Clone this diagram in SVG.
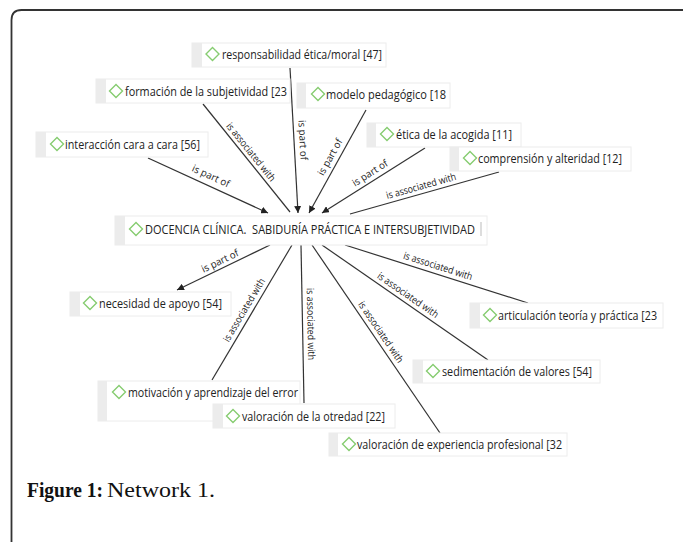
<svg xmlns="http://www.w3.org/2000/svg" width="683" height="542" viewBox="0 0 683 542">
<style>
.frame{fill:none;stroke:#333;stroke-width:1.8}
.strip{fill:#ececec}
.box{fill:#fff;stroke:#ececec;stroke-width:1}
.dia{fill:none;stroke:#86cc70;stroke-width:1.4}
.nt{font-family:"Open Sans","Noto Sans",sans-serif;font-size:13px;fill:#222}
.ln{stroke:#333;stroke-width:1.2;fill:none}
.lb{font-family:"Open Sans","Noto Sans",sans-serif;font-size:10px;fill:#222;text-anchor:middle}
.cap{font-family:"Liberation Serif",serif;font-size:20px;fill:#111}
</style>
<defs>
<marker id="arr" markerUnits="userSpaceOnUse" markerWidth="8" markerHeight="7" refX="7" refY="3.5" orient="auto">
<path d="M0,0 L7,3.5 L0,7 z" fill="#222"/>
</marker>
</defs>
<rect width="683" height="542" fill="#fff"/>
<path class="frame" d="M11.5 542 V20 Q11.5 10 21.5 10 H683"/>

<g id="connectors">
<line class="ln" x1="148" y1="158" x2="268" y2="213" marker-end="url(#arr)"/>
<line class="ln" x1="203" y1="104" x2="290" y2="212"/>
<line class="ln" x1="290" y1="68" x2="298" y2="213" marker-end="url(#arr)"/>
<line class="ln" x1="366" y1="110" x2="309" y2="213" marker-end="url(#arr)"/>
<line class="ln" x1="425" y1="148" x2="322" y2="213" marker-end="url(#arr)"/>
<line class="ln" x1="499" y1="172" x2="350" y2="214"/>
<line class="ln" x1="270" y1="245" x2="177" y2="290" marker-end="url(#arr)"/>
<line class="ln" x1="292" y1="245" x2="212" y2="380"/>
<line class="ln" x1="301" y1="245" x2="304" y2="403"/>
<line class="ln" x1="345" y1="245" x2="528" y2="303"/>
<line class="ln" x1="322" y1="245" x2="488" y2="360"/>
<line class="ln" x1="312" y1="245" x2="440" y2="433"/>
<text class="lb" transform="translate(211,176) rotate(24.6)" y="3.5" textLength="40" lengthAdjust="spacingAndGlyphs">is part of</text>
<text class="lb" transform="translate(251,152) rotate(51.1)" y="3.5" textLength="72" lengthAdjust="spacingAndGlyphs">is associated with</text>
<text class="lb" transform="translate(303,140) rotate(86.8)" y="3.5" textLength="40" lengthAdjust="spacingAndGlyphs">is part of</text>
<text class="lb" transform="translate(330,157) rotate(-61)" y="3.5" textLength="40" lengthAdjust="spacingAndGlyphs">is part of</text>
<text class="lb" transform="translate(370,173) rotate(-32.5)" y="3.5" textLength="40" lengthAdjust="spacingAndGlyphs">is part of</text>
<text class="lb" transform="translate(421,186) rotate(-15.7)" y="3.5" textLength="72" lengthAdjust="spacingAndGlyphs">is associated with</text>
<text class="lb" transform="translate(220,261) rotate(-25.8)" y="3.5" textLength="40" lengthAdjust="spacingAndGlyphs">is part of</text>
<text class="lb" transform="translate(244,310) rotate(-59.3)" y="3.5" textLength="72" lengthAdjust="spacingAndGlyphs">is associated with</text>
<text class="lb" transform="translate(311,324) rotate(88.9)" y="3.5" textLength="72" lengthAdjust="spacingAndGlyphs">is associated with</text>
<text class="lb" transform="translate(438,266) rotate(17.6)" y="3.5" textLength="72" lengthAdjust="spacingAndGlyphs">is associated with</text>
<text class="lb" transform="translate(408,295) rotate(34.7)" y="3.5" textLength="72" lengthAdjust="spacingAndGlyphs">is associated with</text>
<text class="lb" transform="translate(381,332) rotate(55.7)" y="3.5" textLength="72" lengthAdjust="spacingAndGlyphs">is associated with</text>
</g>

<g id="n-responsabilidad">
<rect class="box" x="192" y="43" width="194" height="24"/><rect class="strip" x="192" y="43" width="10" height="24"/>
<path class="dia" d="M206 54 L212.5 47.5 L219 54 L212.5 60.5 Z"/>
<text class="nt" x="222" y="59" textLength="160" lengthAdjust="spacingAndGlyphs">responsabilidad ética/moral [47]</text>
</g>
<g id="n-formacion">
<rect class="box" x="96" y="79" width="194" height="24"/><rect class="strip" x="96" y="79" width="10" height="24"/>
<path class="dia" d="M109.5 91 L116 84.5 L122.5 91 L116 97.5 Z"/>
<text class="nt" x="125" y="96" textLength="162" lengthAdjust="spacingAndGlyphs">formación de la subjetividad [23</text>
</g>
<g id="n-modelo">
<rect class="box" x="297" y="83" width="153" height="25"/><rect class="strip" x="297" y="83" width="9" height="25"/>
<path class="dia" d="M311.5 94 L318 87.5 L324.5 94 L318 100.5 Z"/>
<text class="nt" x="326" y="99" textLength="120" lengthAdjust="spacingAndGlyphs">modelo pedagógico [18</text>
</g>
<g id="n-interaccion">
<rect class="box" x="36" y="132" width="172" height="25"/><rect class="strip" x="36" y="132" width="10" height="25"/>
<path class="dia" d="M50.5 144 L57 137.5 L63.5 144 L57 150.5 Z"/>
<text class="nt" x="65" y="149" textLength="135" lengthAdjust="spacingAndGlyphs">interacción cara a cara [56]</text>
</g>
<g id="n-etica">
<rect class="box" x="367" y="123" width="154" height="24"/><rect class="strip" x="367" y="123" width="9" height="24"/>
<path class="dia" d="M380.5 134 L387 127.5 L393.5 134 L387 140.5 Z"/>
<text class="nt" x="396" y="139" textLength="116" lengthAdjust="spacingAndGlyphs">ética de la acogida [11]</text>
</g>
<g id="n-comprension">
<rect class="box" x="450" y="147" width="181" height="24"/><rect class="strip" x="450" y="147" width="9" height="24"/>
<path class="dia" d="M463.5 158 L470 151.5 L476.5 158 L470 164.5 Z"/>
<text class="nt" x="478" y="163" textLength="144" lengthAdjust="spacingAndGlyphs">comprensión y alteridad [12]</text>
</g>
<g id="n-docencia">
<rect class="box" x="115" y="216" width="372" height="29"/><rect class="strip" x="115" y="216" width="10" height="29"/>
<path class="dia" d="M129.5 229 L136 222.5 L142.5 229 L136 235.5 Z"/>
<text class="nt" x="145" y="234" textLength="330" lengthAdjust="spacingAndGlyphs" xml:space="preserve">DOCENCIA CLÍNICA.  SABIDURÍA PRÁCTICA E INTERSUBJETIVIDAD</text>
<rect x="480.5" y="222" width="1" height="14" fill="#bbb"/>
</g>
<g id="n-necesidad">
<rect class="box" x="70" y="292" width="161" height="24"/><rect class="strip" x="70" y="292" width="10" height="24"/>
<path class="dia" d="M83.5 303 L90 296.5 L96.5 303 L90 309.5 Z"/>
<text class="nt" x="99" y="308" textLength="123" lengthAdjust="spacingAndGlyphs">necesidad de apoyo [54]</text>
</g>
<g id="n-articulacion">
<rect class="box" x="470" y="303" width="193" height="25"/><rect class="strip" x="470" y="303" width="10" height="25"/>
<path class="dia" d="M483.5 315 L490 308.5 L496.5 315 L490 321.5 Z"/>
<text class="nt" x="498" y="320" textLength="159" lengthAdjust="spacingAndGlyphs">articulación teoría y práctica [23</text>
</g>
<g id="n-sedimentacion">
<rect class="box" x="413" y="360" width="187" height="23"/><rect class="strip" x="413" y="360" width="10" height="23"/>
<path class="dia" d="M426.5 371 L433 364.5 L439.5 371 L433 377.5 Z"/>
<text class="nt" x="442" y="376" textLength="150" lengthAdjust="spacingAndGlyphs">sedimentación de valores [54]</text>
</g>
<g id="n-motivacion">
<rect class="box" x="98" y="381" width="202" height="40"/><rect class="strip" x="98" y="381" width="9" height="40"/>
<path class="dia" d="M112.5 392 L119 385.5 L125.5 392 L119 398.5 Z"/>
<text class="nt" x="128" y="397" textLength="170" lengthAdjust="spacingAndGlyphs">motivación y aprendizaje del error</text>
</g>
<g id="n-otredad">
<rect class="box" x="213" y="404" width="182" height="24"/><rect class="strip" x="213" y="404" width="10" height="24"/>
<path class="dia" d="M226.5 416 L233 409.5 L239.5 416 L233 422.5 Z"/>
<text class="nt" x="242" y="421" textLength="143" lengthAdjust="spacingAndGlyphs">valoración de la otredad [22]</text>
</g>
<g id="n-experiencia">
<rect class="box" x="329" y="433" width="238" height="23"/><rect class="strip" x="329" y="433" width="9" height="23"/>
<path class="dia" d="M342.5 444 L349 437.5 L355.5 444 L349 450.5 Z"/>
<text class="nt" x="357" y="449" textLength="205" lengthAdjust="spacingAndGlyphs">valoración de experiencia profesional [32</text>
</g>

<text class="cap" x="27" y="497" font-weight="bold" textLength="76" lengthAdjust="spacingAndGlyphs">Figure 1:</text>
<text class="cap" x="107" y="497" textLength="108" lengthAdjust="spacingAndGlyphs">Network 1.</text>
</svg>
